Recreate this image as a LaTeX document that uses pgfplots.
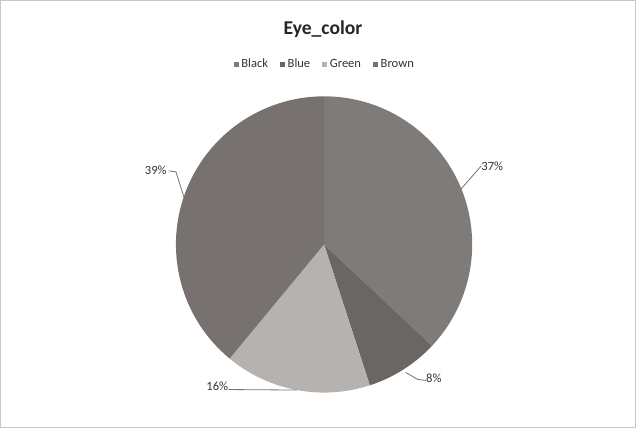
\documentclass[border=0pt]{standalone}
\usepackage{pgfplots}
\pgfplotsset{compat=1.18}
\usepackage{fontspec}
\setmainfont{Carlito}
\definecolor{cBlack}{HTML}{7F7B78}
\definecolor{cBlue}{HTML}{6A6664}
\definecolor{cGreen}{HTML}{B5B2AF}
\definecolor{cBrown}{HTML}{77726F}
\definecolor{txt}{HTML}{333333}
% Eye_color shares (%): Black 37, Blue 8, Green 16, Brown 39
% cumulative angles (clockwise from 90 deg): 90, -43.2, -72, -129.6, -270
\begin{document}
\begin{tikzpicture}
\begin{axis}[hide axis, scale only axis, width=636bp, height=429bp,
  xmin=0, xmax=636, ymin=0, ymax=429, clip=false,
  legend columns=4,
  legend style={draw=none, fill=none, text=txt,
    font=\fontsize{12.5}{13}\selectfont,
    at={(axis cs:325,363)}, anchor=center,
    nodes={inner sep=2.5bp},
    /tikz/every even column/.append style={column sep=9.5bp}},
  legend image code/.code={\fill[#1, draw=none] (0bp,-2.5bp) rectangle (5bp,2.5bp);}]
\draw[black!22, line width=1.2bp] (axis cs:3,2) rectangle (axis cs:633,426);
\fill[cBlack] (axis cs:324,184) -- ++(90:147bp) arc[start angle=90, end angle=-43.2, radius=147bp] -- cycle;
\fill[cBlue] (axis cs:324,184) -- ++(-43.2:147bp) arc[start angle=-43.2, end angle=-72, radius=147bp] -- cycle;
\fill[cGreen] (axis cs:324,184) -- ++(-72:147bp) arc[start angle=-72, end angle=-129.6, radius=147bp] -- cycle;
\fill[cBrown] (axis cs:324,184) -- ++(-129.6:147bp) arc[start angle=-129.6, end angle=-270, radius=147bp] -- cycle;
\addlegendimage{fill=cBlack}\addlegendentry{Black}
\addlegendimage{fill=cBlue}\addlegendentry{Blue}
\addlegendimage{fill=cGreen}\addlegendentry{Green}
\addlegendimage{fill=cBrown}\addlegendentry{Brown}
\node[font=\bfseries\fontsize{19.5}{22}\selectfont, text=black!85] at (axis cs:323,398) {Eye\_color};
\draw[black!55, line width=0.8bp] (axis cs:170,257) -- (axis cs:177,256) -- (axis cs:185,231);
\draw[black!55, line width=0.8bp] (axis cs:480,262) -- (axis cs:460,239);
\draw[black!55, line width=0.8bp] (axis cs:405,57) -- (axis cs:417,50) -- (axis cs:425,49);
\draw[black!55, line width=0.8bp] (axis cs:229,40) -- (axis cs:297,39.5);
\node[font=\fontsize{12.5}{14}\selectfont, text=txt] at (axis cs:157,258) {39\%};
\node[font=\fontsize{12.5}{14}\selectfont, text=txt] at (axis cs:491,262) {37\%};
\node[font=\fontsize{12.5}{14}\selectfont, text=txt] at (axis cs:433,51) {8\%};
\node[font=\fontsize{12.5}{14}\selectfont, text=txt] at (axis cs:218,43) {16\%};
\end{axis}
\end{tikzpicture}
\end{document}
